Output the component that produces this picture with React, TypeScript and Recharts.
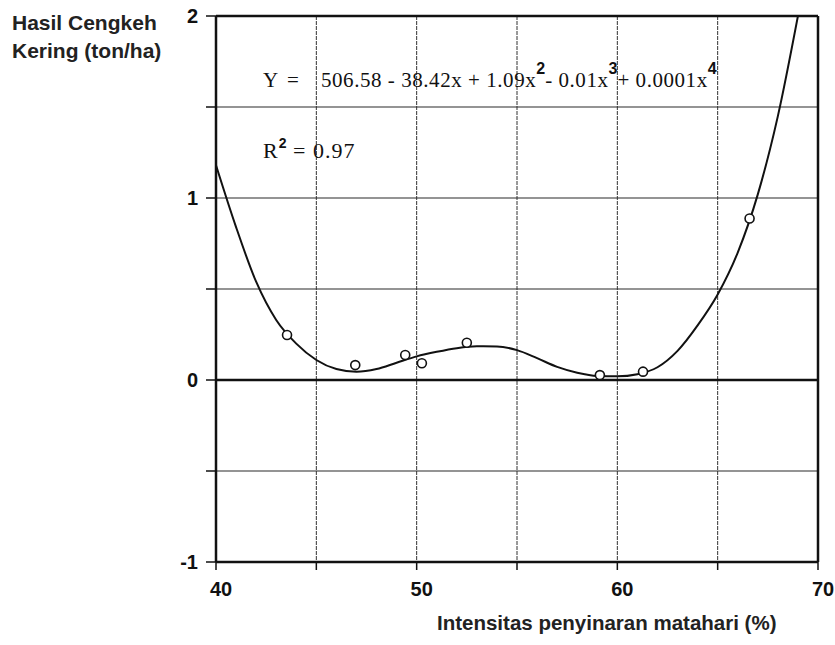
import { ComposedChart, Line, Scatter, XAxis, YAxis, CartesianGrid, ReferenceLine } from 'recharts'

// fitted curve (x = % light intensity, y = ton/ha)
const curveX = [40, 41, 42, 43, 44, 45, 46, 47, 48, 49, 50, 51, 52, 53, 54, 55, 56, 57, 58, 59, 60, 61, 62, 63, 64, 65, 66, 67, 68, 69]
const curveY = [1.18, 0.84, 0.54, 0.33, 0.2, 0.11, 0.06, 0.045, 0.06, 0.095, 0.13, 0.155, 0.175, 0.185, 0.184, 0.164, 0.12, 0.072, 0.04, 0.022, 0.02, 0.032, 0.07, 0.16, 0.3, 0.47, 0.7, 1.02, 1.45, 2.0]

// observed points
const obsX = [43.54, 46.94, 49.43, 50.26, 52.5, 59.13, 61.28, 66.59]
const obsY = [0.247, 0.082, 0.137, 0.092, 0.205, 0.027, 0.046, 0.887]

const xTicks = [40, 45, 50, 55, 60, 65, 70]
const yTicks = [-1, -0.5, 0, 0.5, 1, 1.5, 2]

const curveData = curveX.map((x, i) => ({ x, y: curveY[i] }))
const obsData = obsX.map((x, i) => ({ x, y: obsY[i] }))

const SANS = '"Liberation Sans", Arial, sans-serif'
const SERIF = '"Liberation Serif", "Times New Roman", serif'

const OpenCircle = (props: any) => {
  const { cx, cy } = props
  return <circle cx={cx} cy={cy} r={4.5} fill="#fff" stroke="#111" strokeWidth={1.6} />
}

const Sup = ({ children, top = -13, size = 16 }: any) => (
  <span style={{ position: 'relative', top, fontSize: size, fontWeight: 'bold', fontFamily: SANS, letterSpacing: 0 }}>{children}</span>
)

const textBase = { position: 'absolute' as const, fontFamily: SERIF, fontSize: 21, lineHeight: 1, color: '#111', whiteSpace: 'pre' as const }

export default function App() {
  return (
    <div style={{ position: 'absolute', left: 0, top: 0, width: 835, height: 645, background: '#fff' }}>
      <ComposedChart width={835} height={645} margin={{ top: 16, right: 17, bottom: 43, left: 156 }}>
        <CartesianGrid horizontal={false} vertical={true} stroke="#333" strokeWidth={1} strokeDasharray="4 1" />
        <XAxis
          type="number"
          dataKey="x"
          domain={[40, 70]}
          ticks={xTicks}
          interval={0}
          allowDataOverflow
          height={40}
          tickSize={8}
          tickMargin={12}
          axisLine={{ stroke: '#111', strokeWidth: 2.5 }}
          tickLine={{ stroke: '#111', strokeWidth: 1.5 }}
          tickFormatter={(v: number) => (v % 10 === 0 ? String(v) : '')}
          tick={{ fill: '#111', fontSize: 20, fontWeight: 'bold', fontFamily: SANS, dx: 5 }}
        />
        <YAxis
          type="number"
          dataKey="y"
          domain={[-1, 2]}
          ticks={yTicks}
          interval={0}
          allowDataOverflow
          width={60}
          tickSize={10}
          tickMargin={8}
          axisLine={{ stroke: '#111', strokeWidth: 2.5 }}
          tickLine={{ stroke: '#111', strokeWidth: 1.5 }}
          tickFormatter={(v: number) => (Number.isInteger(v) ? String(v) : '')}
          tick={{ fill: '#111', fontSize: 20, fontWeight: 'bold', fontFamily: SANS }}
        />
        {yTicks.map((v) => (
          <ReferenceLine key={`h-${v}`} y={v} stroke="#2a2a2a" strokeWidth={1.2} />
        ))}
        <ReferenceLine y={0} stroke="#111" strokeWidth={2.5} />
        <ReferenceLine y={2} stroke="#111" strokeWidth={2.5} />
        <ReferenceLine x={70} stroke="#111" strokeWidth={2.5} />
        <Line
          data={curveData}
          dataKey="y"
          type="monotone"
          stroke="#111"
          strokeWidth={2}
          dot={false}
          activeDot={false}
          isAnimationActive={false}
        />
        <Scatter data={obsData} dataKey="y" shape={OpenCircle} isAnimationActive={false} />
      </ComposedChart>

      <div style={{ position: 'absolute', left: 12, top: 9, fontFamily: SANS, fontWeight: 'bold', fontSize: 21, lineHeight: '28px', color: '#222', whiteSpace: 'pre' }}>
        {'Hasil Cengkeh\nKering (ton/ha)'}
      </div>

      <div style={{ position: 'absolute', left: 437, top: 613, fontFamily: SANS, fontWeight: 'bold', fontSize: 20.5, lineHeight: 1, color: '#222', whiteSpace: 'pre' }}>
        Intensitas penyinaran matahari (%)
      </div>

      {/* regression equation */}
      <div style={{ ...textBase, left: 263, top: 70 }}>Y</div>
      <div style={{ ...textBase, left: 287, top: 70 }}>=</div>
      <div style={{ ...textBase, left: 321, top: 70, letterSpacing: 0.55 }}>
        {'506.58 - 38.42x + 1.09x'}
        <Sup>2</Sup>
        {'- 0.01x'}
        <Sup>3</Sup>
        {'+ 0.0001x'}
        <Sup>4</Sup>
      </div>

      <div style={{ ...textBase, left: 263, top: 140, fontSize: 22, letterSpacing: 1 }}>
        {'R'}
        <Sup top={-10} size={14}>2</Sup>
        {' = 0.97'}
      </div>
    </div>
  )
}
